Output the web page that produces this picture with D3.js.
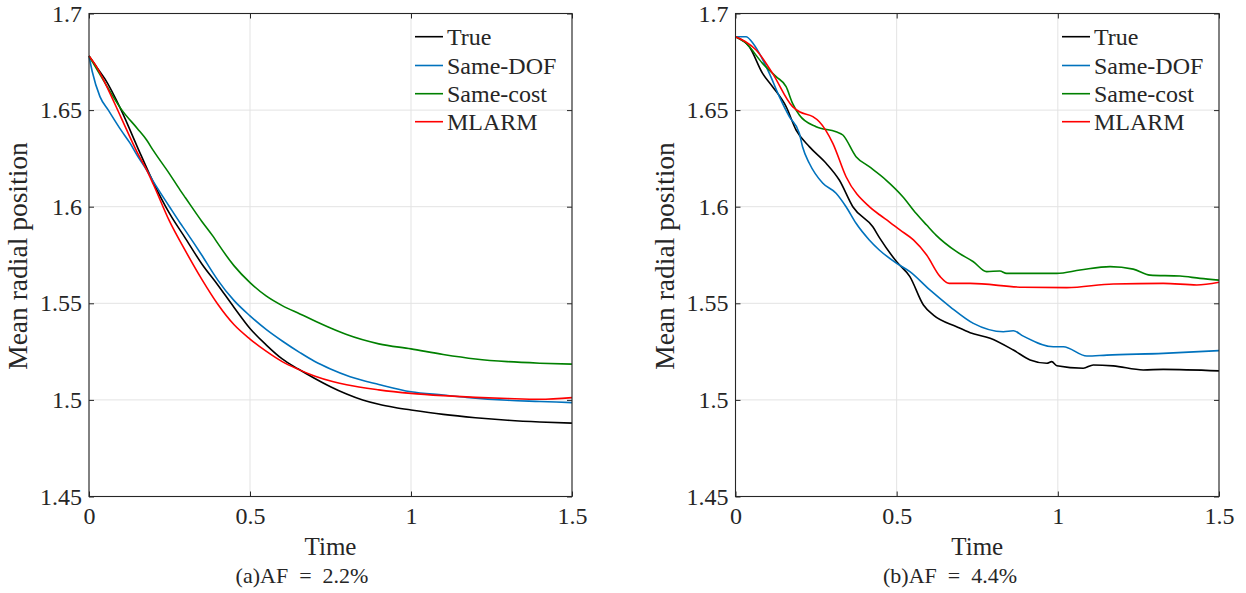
<!DOCTYPE html>
<html>
<head>
<meta charset="utf-8">
<script src="https://cdn.jsdelivr.net/npm/d3@7"></script>
<style>
  html, body { margin: 0; padding: 0; background: #fff; }
  svg { display: block; }
  text { font-family: "Liberation Serif", "Times New Roman", serif; fill: #262626; }
</style>
</head>
<body>
<svg id="chart" width="1246" height="593"></svg>
<script>
// ---------------- DATA ----------------
const seriesNames = ["True", "Same-DOF", "Same-cost", "MLARM"];
const seriesColors = ["#000000", "#0072BD", "#008000", "#FF0000"];
const xTicks = [0, 0.5, 1, 1.5];
const xTickLabels = ["0", "0.5", "1", "1.5"];
const yTicks = [1.45, 1.5, 1.55, 1.6, 1.65, 1.7];
const yTickLabels = ["1.45", "1.5", "1.55", "1.6", "1.65", "1.7"];
const captions = ["(a)AF\u2002=\u20022.2%", "(b)AF\u2002=\u20024.4%"];

// Panel (a): AF = 2.2%  — [time, mean radial position]
const aTrue = [[0,1.678],[0.025,1.672],[0.05,1.666],[0.1,1.650],[0.15,1.631],[0.2,1.6125],[0.25,1.5965],[0.3,1.5835],[0.35,1.5705],[0.4,1.5595],[0.45,1.548],[0.5,1.537],[0.55,1.5285],[0.6,1.5212],[0.65,1.5160],[0.7,1.5112],[0.75,1.5068],[0.8,1.5030],[0.85,1.4999],[0.9,1.4977],[0.95,1.4961],[1.0,1.4948],[1.1,1.4925],[1.2,1.4908],[1.3,1.4895],[1.4,1.4886],[1.5,1.488]];
const aSameDOF = [[0,1.678],[0.01,1.670],[0.034,1.657],[0.06,1.650],[0.1,1.6395],[0.127,1.633],[0.15,1.6265],[0.179,1.619],[0.2,1.613],[0.25,1.600],[0.283,1.5916],[0.3,1.5875],[0.35,1.575],[0.386,1.5655],[0.4,1.562],[0.45,1.5515],[0.5,1.5435],[0.55,1.5365],[0.6,1.5305],[0.655,1.5245],[0.7,1.520],[0.75,1.516],[0.811,1.512],[0.9,1.508],[1.0,1.5042],[1.1,1.5025],[1.173,1.5013],[1.3,1.4998],[1.4,1.4992],[1.5,1.4986]];
const aSameCost = [[0,1.678],[0.025,1.671],[0.05,1.664],[0.075,1.657],[0.1,1.6505],[0.15,1.6405],[0.179,1.6345],[0.2,1.629],[0.25,1.617],[0.283,1.6086],[0.3,1.6045],[0.35,1.5925],[0.386,1.5845],[0.4,1.581],[0.45,1.5695],[0.5,1.5607],[0.55,1.5538],[0.6,1.5488],[0.655,1.5445],[0.7,1.541],[0.75,1.5372],[0.8,1.5338],[0.9,1.529],[1.0,1.5264],[1.1,1.5235],[1.2,1.5212],[1.3,1.5198],[1.4,1.5190],[1.5,1.5185]];
const aMLARM = [[0,1.678],[0.025,1.672],[0.05,1.664],[0.1,1.646],[0.15,1.628],[0.179,1.619],[0.2,1.6115],[0.25,1.5925],[0.3,1.577],[0.35,1.5625],[0.4,1.5495],[0.45,1.539],[0.5,1.5315],[0.55,1.5252],[0.6,1.5198],[0.65,1.5158],[0.7,1.5124],[0.759,1.5094],[0.8,1.5078],[0.9,1.5052],[1.0,1.5034],[1.1,1.5022],[1.2,1.5013],[1.3,1.5007],[1.4,1.5003],[1.5,1.5012]];

// Panel (b): AF = 4.4%
const bTrue = [[0,1.688],[0.043,1.6828],[0.084,1.669],[0.115,1.6621],[0.157,1.6518],[0.188,1.6397],[0.229,1.6311],[0.281,1.6225],[0.322,1.6138],[0.364,1.600],[0.426,1.5896],[0.448,1.5836],[0.5,1.5715],[0.541,1.5638],[0.583,1.5491],[0.614,1.5439],[0.686,1.5379],[0.728,1.5348],[0.79,1.5319],[0.862,1.5258],[0.914,1.5207],[0.966,1.519],[0.981,1.5198],[0.997,1.5177],[1.079,1.5164],[1.11,1.5181],[1.172,1.5176],[1.265,1.5155],[1.327,1.5158],[1.5,1.515]];
const bSameDOF = [[0,1.688],[0.033,1.688],[0.05,1.6855],[0.074,1.6794],[0.105,1.669],[0.136,1.657],[0.167,1.6466],[0.198,1.638],[0.208,1.631],[0.229,1.6225],[0.271,1.6121],[0.312,1.607],[0.343,1.600],[0.374,1.5914],[0.415,1.5828],[0.446,1.5776],[0.5,1.5707],[0.541,1.5664],[0.603,1.5569],[0.666,1.5482],[0.738,1.5396],[0.831,1.5353],[0.862,1.5358],[0.893,1.533],[0.986,1.5275],[1.017,1.5275],[1.09,1.5227],[1.152,1.5232],[1.327,1.5241],[1.5,1.5255]];
const bSameCost = [[0,1.688],[0.03,1.685],[0.084,1.6742],[0.126,1.6673],[0.157,1.6621],[0.177,1.6535],[0.198,1.6475],[0.25,1.6414],[0.312,1.6388],[0.333,1.6371],[0.374,1.6259],[0.415,1.6207],[0.467,1.6138],[0.519,1.6052],[0.56,1.5966],[0.593,1.5905],[0.622,1.5853],[0.686,1.5767],[0.738,1.5715],[0.779,1.5664],[0.82,1.5667],[0.841,1.5655],[0.997,1.5655],[1.069,1.5672],[1.162,1.569],[1.234,1.5677],[1.286,1.5646],[1.379,1.5641],[1.441,1.5629],[1.5,1.562]];
const bMLARM = [[0,1.688],[0.03,1.6855],[0.064,1.6811],[0.115,1.669],[0.177,1.6518],[0.2,1.649],[0.24,1.6466],[0.26,1.644],[0.302,1.6328],[0.343,1.6155],[0.415,1.600],[0.448,1.5957],[0.477,1.5922],[0.51,1.588],[0.552,1.5828],[0.593,1.575],[0.635,1.5638],[0.663,1.5603],[0.728,1.5603],[0.893,1.5583],[1.028,1.5581],[1.172,1.560],[1.327,1.5603],[1.431,1.5595],[1.5,1.5609]];

const panelsData = [
  [aTrue, aSameDOF, aSameCost, aMLARM],
  [bTrue, bSameDOF, bSameCost, bMLARM]
];

// ---------------- LAYOUT ----------------
const svg = d3.select("#chart");
const panels = [
  { left: 89, right: 572, top: 13.5, bottom: 496.5, legendX: 415, captionX: 302 },
  { left: 735.5, right: 1219, top: 13.5, bottom: 496.5, legendX: 1062, captionX: 950 }
];
const axisColor = "#262626";
const gridColor = "#e3e3e3";
const serif = '"Liberation Serif", "Times New Roman", serif';

panels.forEach((p, pi) => {
  const w = p.right - p.left, h = p.bottom - p.top;
  const x = d3.scaleLinear().domain([0, 1.5]).range([0, w]);
  const y = d3.scaleLinear().domain([1.45, 1.7]).range([h, 0]);
  const g = svg.append("g").attr("transform", `translate(${p.left},${p.top})`);

  // grid
  g.append("g").selectAll("line").data(xTicks).join("line")
    .attr("x1", d => x(d)).attr("x2", d => x(d)).attr("y1", 0).attr("y2", h)
    .attr("stroke", gridColor).attr("stroke-width", 1);
  g.append("g").selectAll("line").data(yTicks).join("line")
    .attr("y1", d => y(d)).attr("y2", d => y(d)).attr("x1", 0).attr("x2", w)
    .attr("stroke", gridColor).attr("stroke-width", 1);

  // lines
  const line = d3.line().x(d => x(d[0])).y(d => y(d[1])).curve(d3.curveMonotoneX);
  panelsData[pi].forEach((s, si) => {
    g.append("path").datum(s)
      .attr("fill", "none").attr("stroke", seriesColors[si])
      .attr("stroke-width", 1.6).attr("stroke-linejoin", "round")
      .attr("d", line);
  });

  // axes (ticks inside)
  const fmtX = (d, i) => xTickLabels[i];
  const fmtY = (d, i) => yTickLabels[i];
  const ax = [
    g.append("g").attr("transform", `translate(0,${h})`)
      .call(d3.axisBottom(x).tickValues(xTicks).tickFormat(fmtX).tickSizeInner(-5).tickSizeOuter(0).tickPadding(10)),
    g.append("g")
      .call(d3.axisTop(x).tickValues(xTicks).tickFormat("").tickSizeInner(-5).tickSizeOuter(0)),
    g.append("g")
      .call(d3.axisLeft(y).tickValues(yTicks).tickFormat(fmtY).tickSizeInner(-5).tickSizeOuter(0).tickPadding(7)),
    g.append("g").attr("transform", `translate(${w},0)`)
      .call(d3.axisRight(y).tickValues(yTicks).tickFormat("").tickSizeInner(-5).tickSizeOuter(0))
  ];
  ax.forEach(a => {
    a.attr("font-family", serif).attr("font-size", 24);
    a.select(".domain").remove();
    a.selectAll(".tick line").attr("stroke", axisColor).attr("stroke-width", 1);
    a.selectAll(".tick text").attr("fill", axisColor)
      .style("font-family", serif).style("font-size", "24px");
  });
  g.append("rect").attr("x", 0).attr("y", 0).attr("width", w).attr("height", h)
    .attr("fill", "none").attr("stroke", axisColor).attr("stroke-width", 1.1);

  // axis labels
  svg.append("text")
    .attr("x", (p.left + p.right) / 2).attr("y", 555)
    .attr("text-anchor", "middle").style("font-size", "25px").text("Time");
  svg.append("text")
    .attr("transform", `translate(${p.left - 62},256) rotate(-90)`)
    .attr("text-anchor", "middle").style("font-size", "27.5px").text("Mean radial position");
  svg.append("text")
    .attr("x", p.captionX).attr("y", 583)
    .attr("text-anchor", "middle").style("font-size", "22px").text(captions[pi]);

  // legend
  const lg = svg.append("g");
  const rowY = [36.7, 65.5, 93.7, 121.7];
  seriesNames.forEach((n, si) => {
    lg.append("line")
      .attr("x1", p.legendX).attr("x2", p.legendX + 28)
      .attr("y1", rowY[si]).attr("y2", rowY[si])
      .attr("stroke", seriesColors[si]).attr("stroke-width", 1.6);
    lg.append("text")
      .attr("x", p.legendX + 32).attr("y", rowY[si]).attr("dy", "0.34em")
      .style("font-size", "24px").text(n);
  });
});
</script>
</body>
</html>
